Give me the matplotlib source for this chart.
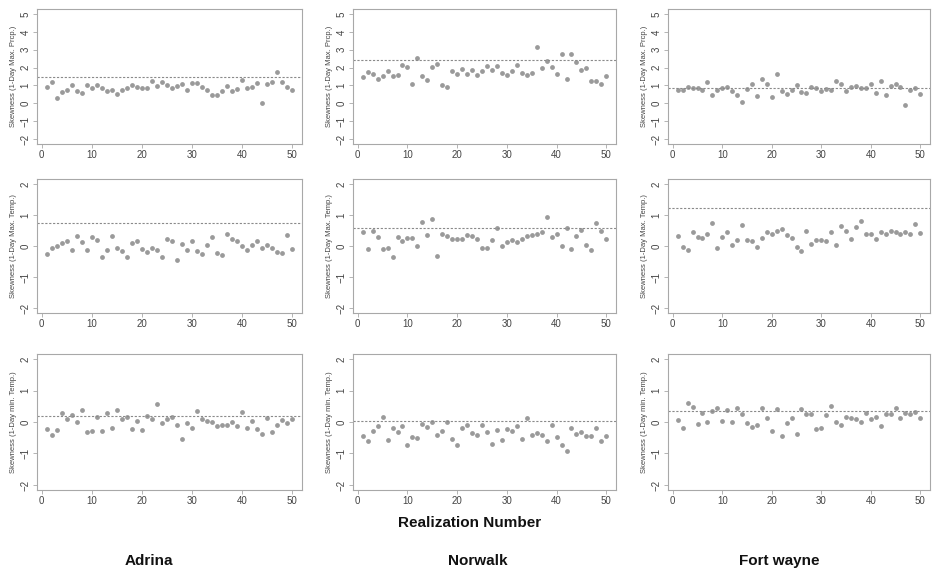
import numpy as np
import matplotlib
matplotlib.use("Agg")
from matplotlib import pyplot as plt

realization = list(range(1, 51))

# 1-day max precipitation
adrina_prcp = [0.89, 1.21, 0.32, 0.64, 0.75, 1.00, 0.66, 0.58, 1.00, 0.85,
               1.00, 0.85, 0.68, 0.72, 0.51, 0.74, 0.87, 1.04, 0.91, 0.87,
               0.83, 1.26, 0.96, 1.17, 1.02, 0.87, 0.96, 1.09, 0.74, 1.15,
               1.11, 0.89, 0.77, 0.47, 0.47, 0.66, 0.96, 0.70, 0.81, 1.30,
               0.83, 0.89, 1.11, 0.04, 1.08, 1.17, 1.75, 1.21, 0.94, 0.77]
norwalk_prcp = [1.49, 1.77, 1.62, 1.38, 1.53, 1.79, 1.53, 1.60, 2.15, 2.06,
                1.08, 2.51, 1.51, 1.30, 2.02, 2.21, 1.00, 0.89, 1.83, 1.64,
                1.94, 1.64, 1.87, 1.60, 1.81, 2.09, 1.85, 2.08, 1.68, 1.57,
                1.83, 2.15, 1.70, 1.60, 1.70, 3.15, 1.98, 2.38, 2.04, 1.62,
                2.77, 1.34, 2.75, 2.32, 1.89, 2.00, 1.26, 1.26, 1.09, 1.51]
fortwayne_prcp = [0.77, 0.77, 0.91, 0.87, 0.83, 0.75, 1.17, 0.47, 0.77, 0.85,
                  0.92, 0.70, 0.47, 0.09, 0.81, 1.09, 0.38, 1.34, 1.09, 0.36,
                  1.64, 0.68, 0.51, 0.77, 1.02, 0.62, 0.60, 0.91, 0.83, 0.68,
                  0.81, 0.77, 1.25, 1.08, 0.66, 0.92, 0.98, 0.85, 0.87, 1.06,
                  0.58, 1.25, 0.49, 0.96, 1.09, 0.92, -0.11, 0.74, 0.85, 0.51]

# 1-day max temperature
adrina_tmax = [-0.26, -0.05, 0.00, 0.09, 0.15, -0.12, 0.33, 0.12, -0.14, 0.28,
               0.19, -0.34, -0.14, 0.32, -0.06, -0.15, -0.37, 0.10, 0.15, -0.11,
               -0.20, -0.08, -0.12, -0.35, 0.23, 0.16, -0.46, 0.05, -0.12, 0.16,
               -0.17, -0.26, 0.03, 0.28, -0.22, -0.28, 0.38, 0.23, 0.15, -0.01,
               -0.12, 0.04, 0.17, -0.08, 0.03, -0.06, -0.20, -0.24, 0.37, -0.11]
norwalk_tmax = [0.45, -0.11, 0.47, 0.29, -0.10, -0.05, -0.35, 0.29, 0.15, 0.27,
                0.27, -0.01, 0.78, 0.35, 0.87, -0.33, 0.38, 0.33, 0.22, 0.22,
                0.22, 0.34, 0.32, 0.22, -0.08, -0.05, 0.20, 0.58, -0.01, 0.12,
                0.20, 0.12, 0.24, 0.32, 0.35, 0.39, 0.45, 0.95, 0.29, 0.39,
                -0.01, 0.58, -0.11, 0.31, 0.50, 0.04, -0.13, 0.75, 0.47, 0.23]
fortwayne_tmax = [0.31, -0.02, -0.12, 0.44, 0.30, 0.26, 0.38, 0.75, -0.06, 0.30,
                  0.45, 0.03, 0.18, 0.68, 0.20, 0.16, -0.03, 0.25, 0.45, 0.40,
                  0.48, 0.56, 0.35, 0.27, -0.04, -0.17, 0.47, 0.05, 0.19, 0.19,
                  0.16, 0.45, 0.03, 0.66, 0.47, 0.22, 0.61, 0.82, 0.39, 0.39,
                  0.22, 0.44, 0.38, 0.48, 0.45, 0.39, 0.44, 0.38, 0.70, 0.41]

# 1-day min temperature
adrina_tmin = [-0.22, -0.42, -0.25, 0.28, 0.08, 0.23, 0.00, 0.37, -0.31, -0.27,
               0.15, -0.28, 0.29, -0.18, 0.38, 0.09, 0.17, -0.22, 0.04, -0.26,
               0.20, 0.09, 0.57, -0.02, 0.08, 0.15, -0.09, -0.54, -0.03, -0.20,
               0.35, 0.11, 0.04, -0.01, -0.14, -0.09, -0.09, -0.01, -0.13, 0.32,
               -0.20, 0.03, -0.22, -0.38, 0.12, -0.33, -0.09, 0.05, -0.03, 0.10]
norwalk_tmin = [-0.44, -0.61, -0.27, -0.14, 0.17, -0.56, -0.18, -0.33, -0.14, -0.72,
                -0.47, -0.52, -0.06, -0.17, 0.00, -0.41, -0.29, 0.01, -0.55, -0.73,
                -0.20, -0.09, -0.35, -0.42, -0.08, -0.32, -0.71, -0.24, -0.56, -0.23,
                -0.27, -0.12, -0.54, 0.12, -0.42, -0.34, -0.42, -0.59, -0.10, -0.48,
                -0.74, -0.92, -0.20, -0.37, -0.31, -0.44, -0.44, -0.18, -0.59, -0.44]
fortwayne_tmin = [0.05, -0.18, 0.61, 0.47, -0.05, 0.29, 0.01, 0.35, 0.46, 0.04,
                  0.39, -0.01, 0.43, 0.27, -0.04, -0.15, -0.09, 0.43, 0.14, -0.30,
                  0.40, -0.44, -0.04, 0.13, -0.39, 0.40, 0.26, 0.26, -0.21, -0.18,
                  0.23, 0.50, -0.01, -0.11, 0.15, 0.12, 0.08, 0.00, 0.29, 0.08,
                  0.17, -0.14, 0.27, 0.27, 0.45, 0.12, 0.29, 0.26, 0.33, 0.14]

# observed skewness (dashed lines)
observed = [[1.47, 2.43, 0.85],
            [0.73, 0.58, 1.21],
            [0.20, 0.02, 0.35]]

series = [[adrina_prcp, norwalk_prcp, fortwayne_prcp],
          [adrina_tmax, norwalk_tmax, fortwayne_tmax],
          [adrina_tmin, norwalk_tmin, fortwayne_tmin]]
ylabels = ["Skewness (1-Day Max. Prcp.)",
           "Skewness (1-Day Max. Temp.)",
           "Skewness (1-Day min. Temp.)"]
yranges = [(-2, 5), (-2, 2), (-2, 2)]
cities = ["Adrina", "Norwalk", "Fort wayne"]

W, H = 932, 573
fig = plt.figure(figsize=(W / 100, H / 100), dpi=100)
plt.rcParams['font.family'] = ['Liberation Sans', 'DejaVu Sans']

cols = [(37, 302), (353, 616), (668, 930)]
rows = [(9, 144), (179, 313), (354, 490)]
box_col = "#a8a8a8"
pt_col = "#9a9a9a"
txt_col = "#444444"

for i in range(3):
    for j in range(3):
        l, r = cols[j]
        t, b = rows[i]
        ax = fig.add_axes([l / W, 1 - b / H, (r - l) / W, (b - t) / H])
        ax.scatter(realization, series[i][j], s=12, color=pt_col, linewidths=0)
        ax.axhline(observed[i][j], color="#8a8a8a", ls=(0, (2, 1.5)), lw=0.8)
        lo, hi = yranges[i]
        pad = 0.04 * (hi - lo)
        ax.set_ylim(lo - pad, hi + pad)
        ax.set_yticks(range(lo, hi + 1))
        ax.set_xlim(1 - 0.04 * 49, 50 + 0.04 * 49)
        ax.set_xticks([0, 10, 20, 30, 40, 50])
        for s in ax.spines.values():
            s.set_color(box_col)
            s.set_linewidth(0.8)
        ax.tick_params(colors=box_col, labelcolor=txt_col, labelsize=7,
                       length=3, width=0.6, pad=1.5)
        for lab in ax.get_yticklabels():
            lab.set_rotation(90)
            lab.set_va("center")
        ax.set_ylabel(ylabels[i], fontsize=5.5, color=txt_col, labelpad=3)

fig.text(470 / W, 1 - 523 / H, "Realization Number", ha="center", va="center",
         fontsize=11, fontweight="bold", color="#111111")
for x, c in zip([149, 478, 779], cities):
    fig.text(x / W, 1 - 561 / H, c, ha="center", va="center",
             fontsize=11, fontweight="bold", color="#111111")

fig.savefig("out.png", dpi=100)
